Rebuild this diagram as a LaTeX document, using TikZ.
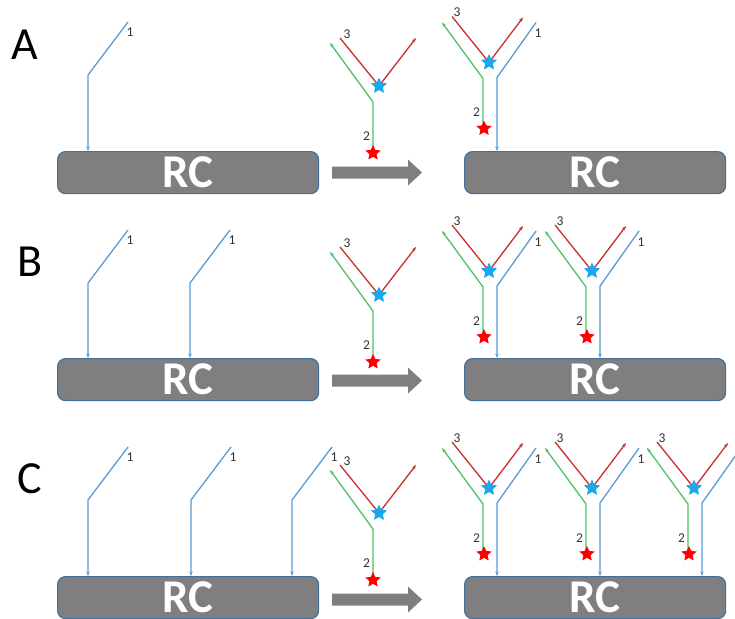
\documentclass[tikz,border=0pt]{standalone}
\usepackage{fontspec}
\setmainfont{Carlito}
\usetikzlibrary{shapes.geometric,arrows.meta}
\definecolor{lblue}{HTML}{5B9BD5}
\definecolor{lgreen}{HTML}{4EC265}
\definecolor{dred}{HTML}{C8302C}
\definecolor{scyan}{HTML}{1AA8EC}
\definecolor{rcgray}{HTML}{7F7F7F}
\definecolor{rcedge}{HTML}{41719C}
\definecolor{lbl}{HTML}{333333}
\tikzset{
  ln/.style={line width=1.3pt, line join=miter},
  bl/.style={ln, draw=lblue},
  gl/.style={ln, draw=lgreen},
  rl/.style={ln, draw=dred},
  tip/.style={-{Stealth[length=4.5pt,width=3.5pt]}},
  rcbox/.style={draw=rcedge, line width=1.2pt, fill=rcgray, rounded corners=8pt,
    minimum width=261pt, minimum height=42pt, inner sep=0pt, anchor=north west,
    text=white, font=\fontsize{47}{47}\selectfont\bfseries},
  num/.style={text=lbl, font=\fontsize{13.5}{13.5}\selectfont, inner sep=0pt},
  panel/.style={font=\fontsize{46}{46}\selectfont, inner sep=0pt},
  cstar/.style={star, star points=5, star point ratio=2.1, fill=scyan, draw=none,
    minimum size=17pt, inner sep=0pt},
  rstar/.style={star, star points=5, star point ratio=2.1, fill=red, draw=none,
    minimum size=16pt, inner sep=0pt},
}
% left arm of antibody 1 bound to RC: name, kink x, kink y, box
\newcommand{\mkleftarm}[4]{%
  \coordinate (#1-k) at (#2,#3);
  \coordinate (#1-t) at (#2+40,#3-53);
  \draw[bl,tip] (#1-t) -- (#1-k) -- (#1-k |- #4.north);
  \node[num] (#1-l) at (#2+42,#3-43) {1};
}
% free antibody: name, kink x, kink y
\newcommand{\mkfree}[3]{%
  \coordinate (#1-k) at (#2,#3);
  \coordinate (#1-gt) at (#2-43,#3-59);
  \coordinate (#1-gs) at (#2,#3+48);
  \coordinate (#1-rl) at (#2-33,#3-64);
  \coordinate (#1-c) at (#2+6,#3-16);
  \coordinate (#1-rr) at (#2+43,#3-64);
  \draw[gl,tip] (#1-gs) -- (#1-k) -- (#1-gt);
  \draw[rl,tip] (#1-rl) -- (#1-c) -- (#1-rr);
  \node[cstar] (#1-cs) at (#1-c) {};
  \node[rstar] (#1-rs) at (#2,#3+51) {};
  \node[num] (#1-l3) at (#2-26,#3-68) {3};
  \node[num] (#1-l2) at (#2-6.5,#3+34.5) {2};
}
% bound complex: name, green kink x, y, box
\newcommand{\mkbound}[4]{%
  \coordinate (#1-k) at (#2,#3);
  \coordinate (#1-gt) at (#2-41,#3-56);
  \coordinate (#1-gs) at (#2,#3+47);
  \coordinate (#1-rl) at (#2-31,#3-62);
  \coordinate (#1-c) at (#2+6,#3-16);
  \coordinate (#1-rr) at (#2+40,#3-61);
  \coordinate (#1-bt) at (#2+53,#3-56);
  \coordinate (#1-bk) at (#2+14,#3-1);
  \draw[gl,tip] (#1-gs) -- (#1-k) -- (#1-gt);
  \draw[rl,tip] (#1-rl) -- (#1-c) -- (#1-rr);
  \draw[bl,tip] (#1-bt) -- (#1-bk) -- (#1-bk |- #4.north);
  \node[cstar] (#1-cs) at (#1-c) {};
  \node[rstar] (#1-rs) at (#2+1,#3+50) {};
  \node[num] (#1-l3) at (#2-26,#3-66) {3};
  \node[num] (#1-l2) at (#2-6.5,#3+34) {2};
  \node[num] (#1-l1) at (#2+55,#3-45) {1};
}
% big gray arrow: centre y
\newcommand{\mkgo}[1]{%
  \fill[rcgray] (332,#1-6) -- (408,#1-6) -- (408,#1-13) -- (422,#1)
    -- (408,#1+13) -- (408,#1+6) -- (332,#1+6) -- cycle;
}
\begin{document}
\begin{tikzpicture}[x=1pt,y=-1pt]
\useasboundingbox (0,0) rectangle (735,618);
\clip (0,0) rectangle (735,618);
\fill[white] (0,0) rectangle (735,618);
% panel letters
\node[panel] (lA) at (25,45) {A};
\node[panel] (lB) at (30,262) {B};
\node[panel] (lC) at (30,479) {C};
% RC boxes
\node[rcbox] (rcA1) at (57,151) {RC};
\node[rcbox] (rcA2) at (464,151) {RC};
\node[rcbox] (rcB1) at (57,358) {RC};
\node[rcbox] (rcB2) at (464,358) {RC};
\node[rcbox] (rcC1) at (57,576) {RC};
\node[rcbox] (rcC2) at (464,576) {RC};
% panel A
\mkleftarm{aA1}{88}{75}{rcA1}
\mkfree{fA}{373}{102}
\mkgo{172.5}
\mkbound{bA1}{483}{78.5}{rcA2}
% panel B
\mkleftarm{aB1}{88}{283}{rcB1}
\mkleftarm{aB2}{190}{283}{rcB1}
\mkfree{fB}{373}{311}
\mkgo{380.5}
\mkbound{bB1}{483}{287}{rcB2}
\mkbound{bB2}{586}{287}{rcB2}
% panel C
\mkleftarm{aC1}{88}{500}{rcC1}
\mkleftarm{aC2}{191}{500}{rcC1}
\mkleftarm{aC3}{292}{500}{rcC1}
\mkfree{fC}{373}{529}
\mkgo{599.5}
\mkbound{bC1}{483}{504}{rcC2}
\mkbound{bC2}{586}{504}{rcC2}
\mkbound{bC3}{688}{504}{rcC2}
\end{tikzpicture}
\end{document}
